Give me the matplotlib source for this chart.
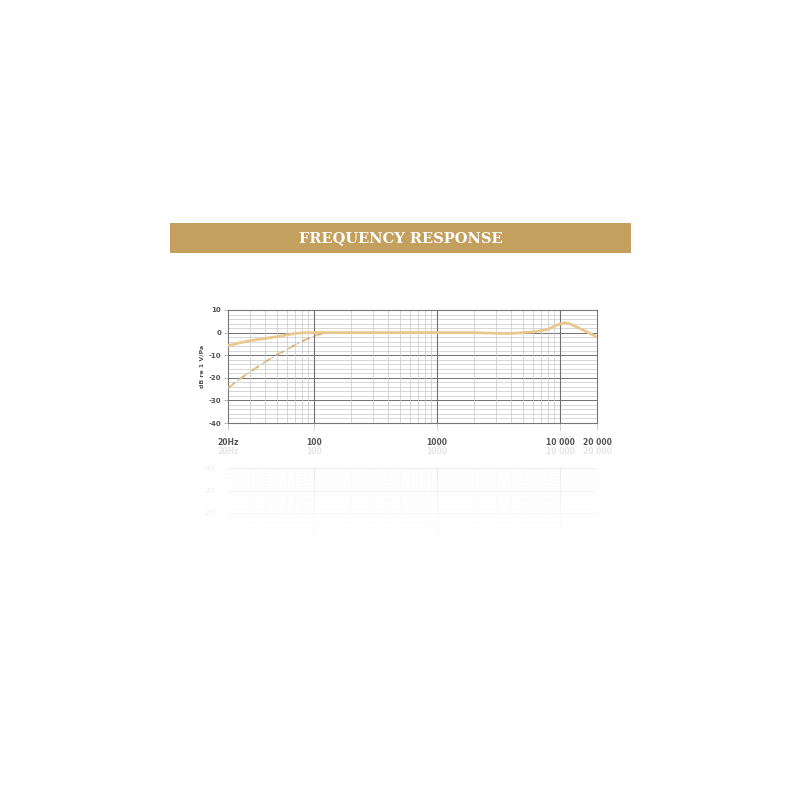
import numpy as np
import matplotlib
matplotlib.use("Agg")
import matplotlib.pyplot as plt
from matplotlib.ticker import FixedLocator, NullFormatter

# Data
solid_freq = [20, 25, 30, 40, 50, 60, 70, 80, 100, 200, 500, 1000, 2000, 3000, 4000, 5000, 6000, 7000, 8000, 9000, 10000, 11000, 12000, 14000, 17000, 20000]
solid_db   = [-5.8, -4.5, -3.6, -2.6, -1.8, -1.0, -0.4, -0.1, 0.0, 0.0, 0.0, 0.0, 0.0, -0.3, -0.4, 0.0, 0.3, 0.8, 1.5, 2.8, 3.9, 4.3, 3.9, 2.2, 0.0, -2.0]
dashed_freq = [20, 25, 30, 40, 50, 60, 70, 80, 90, 100, 110, 120]
dashed_db   = [-24.5, -20.5, -17.5, -13.0, -9.8, -7.5, -5.5, -3.8, -2.6, -1.6, -0.8, -0.2]
y_ticks = [10, 0, -10, -20, -30, -40]
x_ticks = [20, 100, 1000, 10000, 20000]
x_tick_labels = ["20Hz", "100", "1000", "10 000", "20 000"]
reflect_y_labels = [-40, -30, -20]
title_text = "FREQUENCY RESPONSE"
y_label = "dB re 1 V/Pa"

gold = "#C4A05E"
curve = "#E9C78E"
grid_minor = "#C8C8C8"
grid_major = "#707070"
label_col = "#555555"

fig = plt.figure(figsize=(8, 8), dpi=100)
fig.patch.set_facecolor("white")

# Title bar
tax = fig.add_axes([170/800, 1-253/800, 461/800, 30/800])
tax.set_facecolor(gold)
tax.set_xticks([]); tax.set_yticks([])
for s in tax.spines.values():
    s.set_visible(False)
tax.text(0.5, 0.48, title_text, ha="center", va="center", color="white",
         fontsize=10.5, fontweight="bold", family="DejaVu Serif", transform=tax.transAxes)

minor_x = [f * m for f in (10, 100, 1000, 10000) for m in range(2, 10) if 20 < f * m < 20000 and f * m not in x_ticks]
minor_y = [v for v in range(-40, 11, 2) if v % 10 != 0]


def draw_grid(ax, alpha=1.0):
    ax.set_xscale("log")
    ax.set_xlim(20, 20000)
    ax.set_ylim(-40, 10)
    for v in minor_y:
        ax.axhline(v, color=grid_minor, lw=0.5, alpha=alpha, zorder=1)
    for v in [0, -10, -20, -30]:
        ax.axhline(v, color=grid_major, lw=0.7, alpha=alpha, zorder=1)
    for f in minor_x:
        ax.axvline(f, color=grid_minor, lw=0.5, alpha=alpha, zorder=1)
    for f in [100, 1000, 10000]:
        ax.axvline(f, color=grid_major, lw=0.8, alpha=alpha, zorder=1)
    for s in ax.spines.values():
        s.set_color("#777777")
        s.set_linewidth(0.8)
        s.set_alpha(alpha)


ax = fig.add_axes([228/800, 1-423/800, 369/800, 113/800])
draw_grid(ax)
ax.plot(solid_freq, solid_db, color=curve, lw=2.0, zorder=3, solid_capstyle="round")
ax.plot(dashed_freq, dashed_db, color=curve, lw=1.5, ls=(0, (4, 3)), zorder=3)
ax.plot(dashed_freq, dashed_db, color="#9C8468", lw=0.6, ls=(0, (4, 3)), zorder=3, alpha=0.6)

ax.yaxis.set_major_locator(FixedLocator(y_ticks))
ax.set_yticklabels([str(v) for v in y_ticks], fontsize=5, color=label_col, fontweight="bold")
ax.tick_params(axis="y", length=3, width=0.5, color="#999999", pad=2)
ax.xaxis.set_major_locator(FixedLocator(x_ticks))
ax.xaxis.set_minor_formatter(NullFormatter())
ax.tick_params(axis="x", which="minor", length=0)
ax.set_xticklabels(x_tick_labels, fontsize=5.5, color=label_col, fontweight="bold")
ax.tick_params(axis="x", which="major", length=5, width=0.5, color="#BBBBBB", pad=6)
ax.set_ylabel(y_label, fontsize=4.5, color=label_col, fontweight="bold", labelpad=3)

# Faint reflection
rax = fig.add_axes([228/800, 1-581/800, 369/800, 113/800])
draw_grid(rax, alpha=0.12)
rax.set_ylim(10, -40)
rax.set_xticks([]); rax.set_yticks([])
rax.xaxis.set_minor_locator(FixedLocator([]))
for s in rax.spines.values():
    s.set_visible(False)
rax.axhline(-40, color="#777777", lw=0.8, alpha=0.12, zorder=1)
for v in reflect_y_labels:
    rax.text(-0.035, 1 - (v + 40) / 50, str(v), transform=rax.transAxes,
             ha="right", va="center", fontsize=5, color=label_col, alpha=0.12)
grad = np.clip(np.linspace(0, 1.6, 256), 0, 1).reshape(-1, 1)
rax.imshow(np.dstack([np.ones_like(grad)] * 3 + [grad]), extent=[0, 1, 0, 1], aspect="auto",
           transform=rax.transAxes, zorder=5, origin="upper")
for x, lab in zip(x_ticks, x_tick_labels):
    frac = (np.log10(x) - np.log10(20)) / 3.0
    fig.text((228 + frac * 369) / 800, 1 - 452/800, lab, ha="center", va="center",
             fontsize=5.5, color=label_col, alpha=0.15, fontweight="bold")

fig.savefig("out.png", dpi=100, facecolor="white")
